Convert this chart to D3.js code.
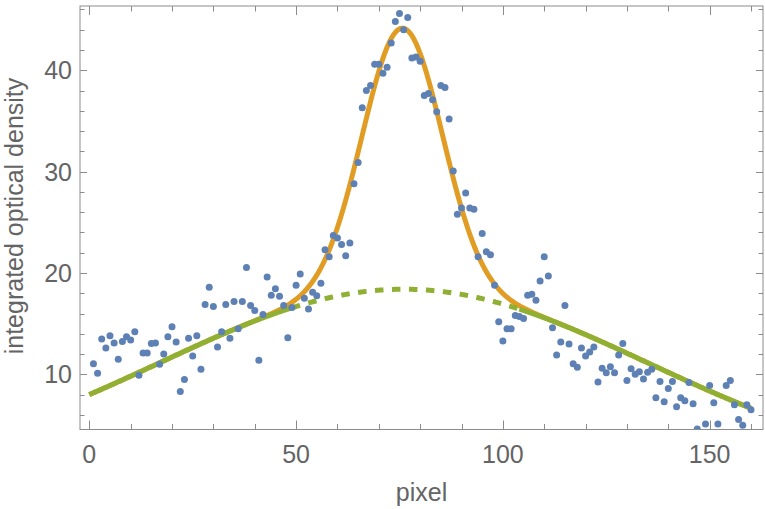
<!DOCTYPE html>
<html>
<head>
<meta charset="utf-8">
<script src="https://cdn.jsdelivr.net/npm/d3@7"></script>
<style>
  body { margin: 0; background: #fff; }
  text { font-family: "Liberation Sans", Arial, sans-serif; }
</style>
</head>
<body>
<div id="chart"></div>
<script>
// measured points, one per pixel column
var pixels = [1,2,3,4,5,6,7,8,9,10,11,12,13,14,15,16,17,18,19,20,
  21,22,23,24,25,26,27,28,29,30,31,32,33,34,35,36,37,38,39,40,
  41,42,43,44,45,46,47,48,49,50,51,52,53,54,55,56,57,58,59,60,
  61,62,63,64,65,66,67,68,69,70,71,72,73,74,75,76,77,78,79,80,
  81,82,83,84,85,86,87,88,89,90,91,92,93,94,95,96,97,98,99,100,
  101,102,103,104,105,106,107,108,109,110,111,112,113,114,115,116,117,118,119,120,
  121,122,123,124,125,126,127,128,129,130,131,132,133,134,135,136,137,138,139,140,
  141,142,143,144,145,146,147,149,150,151,152,154,155,156,157,158,159,160];
var density = [11.05,10.1,13.5,12.6,13.8,13.1,11.5,13.25,13.7,13.4,
  14.2,9.9,12.1,12.1,13.05,13.1,11.0,12.0,13.7,14.7,
  13.2,8.3,9.5,13.55,11.8,13.8,10.5,16.9,18.6,16.7,
  12.7,14.2,16.9,13.55,17.2,14.5,17.2,20.55,16.8,16.3,
  11.4,15.9,19.6,17.8,18.45,17.7,16.8,13.6,16.6,18.8,
  19.9,17.5,16.45,18.1,17.75,19.0,22.3,21.6,23.7,23.45,
  22.8,21.7,22.95,28.8,30.9,36.3,38.0,38.5,40.6,40.6,
  39.7,40.3,42.7,44.8,45.6,44.0,45.2,41.2,41.3,40.9,
  37.5,37.7,37.1,35.9,38.5,38.3,35.2,30.05,25.8,26.4,
  27.9,26.4,26.3,21.6,23.9,22.1,21.8,18.8,15.2,13.3,
  14.5,14.5,15.8,15.7,15.5,17.8,17.9,17.3,19.2,21.6,
  19.7,14.6,11.9,13.2,16.8,13.0,11.05,10.7,12.6,11.8,
  12.2,12.7,9.25,10.6,10.15,10.75,10.15,11.9,13.05,9.4,
  10.55,10.0,10.25,9.55,10.2,10.5,7.7,9.3,7.3,8.6,
  9.3,6.8,7.7,7.4,9.2,7.1,4.6,5.1,8.9,7.2,
  5.1,8.9,9.4,7.0,5.55,4.97,7.0,6.5];

// fitted model: gaussian background + gaussian peak
var bgAmp = 18.4, bgCenter = 76, bgSigma = 58.9;
var peakAmp = 25.75, peakCenter = 75.7, peakSigma = 9.6;
var dashFrom = 49, dashTo = 104;

var xTicks = [0, 50, 100, 150];
var yTicks = [10, 20, 30, 40];

var width = 765, height = 509;
var m = { left: 80, right: 763, top: 6, bottom: 429.5 };

var svg = d3.select("#chart").append("svg")
  .attr("width", width)
  .attr("height", height);

var x = d3.scaleLinear().domain([-2.25, 162.9]).range([m.left, m.right]);
var y = d3.scaleLinear().domain([4.56, 46.34]).range([m.bottom, m.top]);

function background(v) {
  return bgAmp * Math.exp(-Math.pow(v - bgCenter, 2) / (2 * bgSigma * bgSigma));
}
function fit(v) {
  return background(v) + peakAmp * Math.exp(-Math.pow(v - peakCenter, 2) / (2 * peakSigma * peakSigma));
}

svg.append("clipPath").attr("id", "clip")
  .append("rect")
  .attr("x", m.left).attr("y", m.top)
  .attr("width", m.right - m.left).attr("height", m.bottom - m.top);

var plot = svg.append("g").attr("clip-path", "url(#clip)");

var line = d3.line().x(d => x(d[0])).y(d => y(d[1]));

function samples(a, b, f) {
  return d3.range(a, b + 0.001, 0.25).map(v => [v, f(v)]);
}

// orange full fit
plot.append("path")
  .attr("d", line(samples(0, 160, fit)))
  .attr("fill", "none")
  .attr("stroke", "#E19C24")
  .attr("stroke-width", 5);

// green background, dashed under the peak
plot.append("path")
  .attr("d", line(samples(dashFrom, dashTo, background)))
  .attr("fill", "none")
  .attr("stroke", "#8FB032")
  .attr("stroke-width", 5)
  .attr("stroke-dasharray", "8.5,8.5");

[[0, dashFrom], [dashTo, 160]].forEach(function(r) {
  plot.append("path")
    .attr("d", line(samples(r[0], r[1], background)))
    .attr("fill", "none")
    .attr("stroke", "#8FB032")
    .attr("stroke-width", 5);
});

// data points
plot.selectAll("circle")
  .data(pixels)
  .enter()
  .append("circle")
  .attr("cx", d => x(d))
  .attr("cy", (d, i) => y(density[i]))
  .attr("r", 3.5)
  .attr("fill", "#5E81B5");

// frame
var frameColor = "#8c8c8c";
svg.append("rect")
  .attr("x", m.left).attr("y", m.top)
  .attr("width", m.right - m.left).attr("height", m.bottom - m.top)
  .attr("fill", "none")
  .attr("stroke", frameColor)
  .attr("stroke-width", 1);

// ticks on all four sides
var ticks = svg.append("g").attr("stroke", frameColor).attr("stroke-width", 1);
d3.range(0, 161, 10).forEach(function(v) {
  var len = v % 50 == 0 ? 9 : 5.5;
  var px = Math.round(x(v)) + 0.5;
  ticks.append("line").attr("x1", px).attr("x2", px).attr("y1", m.bottom).attr("y2", m.bottom - len);
  ticks.append("line").attr("x1", px).attr("x2", px).attr("y1", m.top).attr("y2", m.top + len);
});
d3.range(6, 47, 2).forEach(function(v) {
  var len = v % 10 == 0 ? 7 : 4.5;
  var py = Math.round(y(v)) + 0.5;
  ticks.append("line").attr("x1", m.left).attr("x2", m.left + len).attr("y1", py).attr("y2", py);
  ticks.append("line").attr("x1", m.right).attr("x2", m.right - len).attr("y1", py).attr("y2", py);
});

// tick labels
var labelColor = "#646464";
svg.selectAll(".xlab")
  .data(xTicks)
  .enter()
  .append("text")
  .attr("x", d => x(d))
  .attr("y", 463)
  .attr("text-anchor", "middle")
  .attr("font-size", 25)
  .attr("fill", labelColor)
  .text(d => d);

svg.selectAll(".ylab")
  .data(yTicks)
  .enter()
  .append("text")
  .attr("x", 72)
  .attr("y", d => y(d) + 9)
  .attr("text-anchor", "end")
  .attr("font-size", 25)
  .attr("fill", labelColor)
  .text(d => d);

// axis titles
svg.append("text")
  .attr("x", (m.left + m.right) / 2)
  .attr("y", 501)
  .attr("text-anchor", "middle")
  .attr("font-size", 25)
  .attr("fill", labelColor)
  .text("pixel");

svg.append("text")
  .attr("transform", "translate(23," + 216 + ") rotate(-90)")
  .attr("text-anchor", "middle")
  .attr("font-size", 25)
  .attr("fill", labelColor)
  .text("integrated optical density");
</script>
</body>
</html>
